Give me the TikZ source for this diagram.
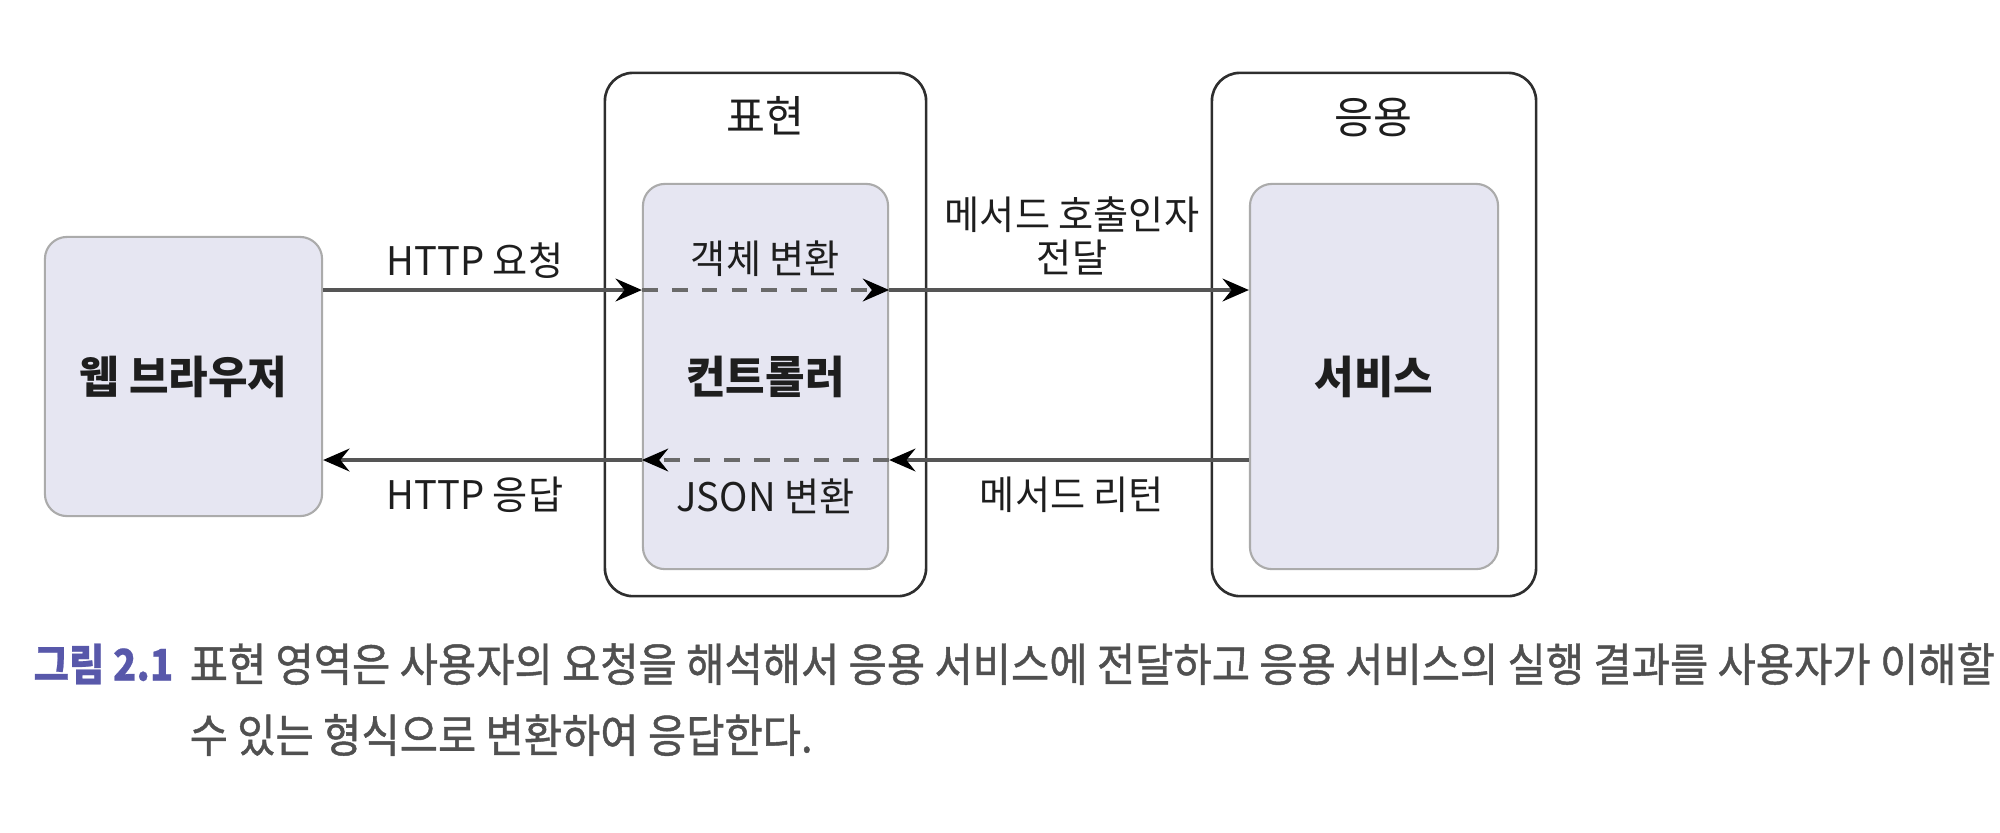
\documentclass[tikz,border=0pt]{standalone}
\usepackage{fontspec}
\setmainfont{Noto Sans CJK KR}[FakeStretch=0.97]
\newfontfamily\capfont{Noto Sans CJK KR}[FakeStretch=0.91,FakeBold=1]
\newfontfamily\caplabfont{Noto Sans CJK KR}[FakeStretch=0.88,FakeBold=0.5]
\usetikzlibrary{arrows.meta}
\definecolor{innerfill}{HTML}{E6E6F2}
\definecolor{innerline}{HTML}{ABABAB}
\definecolor{outerline}{HTML}{2E2E2E}
\definecolor{arrline}{HTML}{555555}
\definecolor{dashline}{HTML}{6A6A6A}
\definecolor{txt}{HTML}{1E1E1E}
\definecolor{capblue}{HTML}{5858AA}
\definecolor{capgray}{HTML}{505050}
\tikzset{
  outerbox/.style={draw=outerline, line width=0.75pt, rounded corners=0.28cm, minimum width=#1, minimum height=5.23cm, inner sep=0pt},
  innerbox/.style={draw=innerline, fill=innerfill, line width=0.6pt, rounded corners=0.22cm, inner sep=0pt},
  mainlabel/.style={font=\fontsize{12.6}{15}\selectfont\bfseries, text=txt},
  titlelabel/.style={font=\fontsize{12.4}{15}\selectfont, text=txt},
  edgelabel/.style={font=\fontsize{11.2}{12.3}\selectfont, text=txt, align=center, inner sep=0pt},
  arr/.style={draw=arrline, line width=0.9pt, -{Stealth[length=7.5pt, width=6.5pt, inset=2.6pt, color=black]}},
  darr/.style={draw=dashline, line width=0.9pt, dash pattern=on 4.5pt off 4pt, -{Stealth[length=7.5pt, width=6.5pt, inset=2.6pt, color=black]}},
}
\begin{document}
\begin{tikzpicture}[x=0.01cm, y=-0.01cm]
\useasboundingbox (0,0) rectangle (2000,832);
% boxes
\node[innerbox, minimum width=2.77cm, minimum height=2.79cm] (wb) at (183.5,376.5) {};
\node[mainlabel] (wbl) at (183.5,377) {웹 브라우저};
\node[outerbox=3.21cm] (pres) at (765.5,334.5) {};
\node[innerbox, minimum width=2.45cm, minimum height=3.85cm] (ctrl) at (765.5,376.5) {};
\node[mainlabel] (ctrll) at (765.5,377) {컨트롤러};
\node[titlelabel] (presl) at (765.5,116) {표현};
\node[outerbox=3.24cm] (app) at (1374,334.5) {};
\node[innerbox, minimum width=2.48cm, minimum height=3.85cm] (svc) at (1374,376.5) {};
\node[mainlabel] (svcl) at (1374,377) {서비스};
\node[titlelabel] (appl) at (1373,118) {응용};
% arrow rows
\coordinate (top) at (0,290);
\coordinate (bot) at (0,460);
\draw[arr] (wb.east |- top) -- (ctrl.west |- top);
\draw[darr] (ctrl.west |- top) -- (ctrl.east |- top);
\draw[arr] (ctrl.east |- top) -- (svc.west |- top);
\draw[arr] (svc.west |- bot) -- (ctrl.east |- bot);
\draw[darr] (ctrl.east |- bot) -- (ctrl.west |- bot);
\draw[arr] (ctrl.west |- bot) -- (wb.east |- bot);
% edge labels
\node[edgelabel] (l1) at (475,261) {HTTP 요청};
\node[edgelabel] (l2) at (475,495) {HTTP 응답};
\node[edgelabel] (l3) at (765.5,259) {객체 변환};
\node[edgelabel] (l4) at (765.5,496) {JSON 변환};
\node[edgelabel] (l5) at (1072,236) {메서드 호출인자\\전달};
\node[edgelabel] (l6) at (1072,495) {메서드 리턴};
% caption
\node[anchor=west, inner sep=0pt, text=capblue, font=\caplabfont\fontsize{12.4}{15}\selectfont\bfseries] (cap0) at (33,664) {그림 2.1};
\node[anchor=west, inner sep=0pt, text=capgray, font=\capfont\fontsize{13}{15}\selectfont] (cap1) at (189,664) {표현 영역은 사용자의 요청을 해석해서 응용 서비스에 전달하고 응용 서비스의 실행 결과를 사용자가 이해할};
\node[anchor=west, inner sep=0pt, text=capgray, font=\capfont\fontsize{13}{15}\selectfont] (cap2) at (189,735) {수 있는 형식으로 변환하여 응답한다.};
\end{tikzpicture}
\end{document}
